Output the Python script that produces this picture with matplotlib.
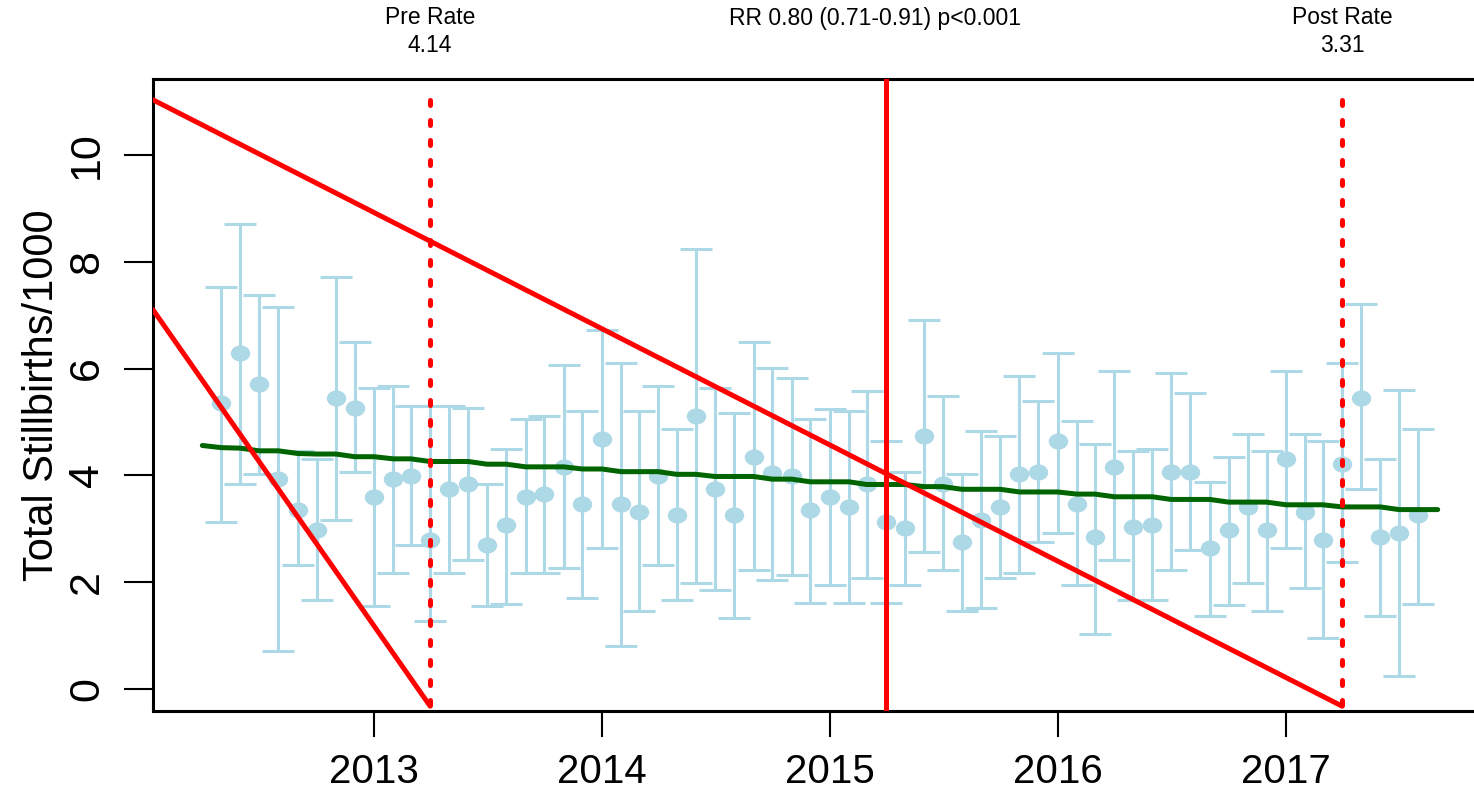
import numpy as np
import pandas as pd
import matplotlib.pyplot as plt
from matplotlib.path import Path
from matplotlib.transforms import Affine2D, blended_transform_factory

plt.rcParams['font.family'] = ['Liberation Sans', 'DejaVu Sans']

# monthly stillbirth rate per 1000 with 95% CI
months = pd.date_range('2012-05-01', '2017-08-01', freq='MS')
rate = [5.35, 6.29, 5.72, 3.93, 3.35, 2.98, 5.45, 5.26,
        3.60, 3.93, 3.98, 2.79, 3.74, 3.84, 2.70, 3.07, 3.60, 3.65, 4.16, 3.46,
        4.68, 3.46, 3.31, 3.98, 3.26, 5.11, 3.74, 3.26, 4.35, 4.04, 3.99, 3.35,
        3.60, 3.41, 3.83, 3.12, 3.02, 4.74, 3.83, 2.75, 3.16, 3.41, 4.02, 4.07,
        4.64, 3.46, 2.84, 4.16, 3.03, 3.07, 4.07, 4.07, 2.65, 2.98, 3.41, 2.98,
        4.30, 3.31, 2.79, 4.21, 5.44, 2.84, 2.93, 3.26]
upper = [7.52, 8.71, 7.38, 7.15, 4.46, 4.31, 7.72, 6.49,
         5.63, 5.68, 5.29, 5.29, 5.29, 5.26, 3.83, 4.50, 5.06, 5.11, 6.06, 5.21,
         6.72, 6.10, 5.21, 5.68, 4.87, 8.24, 5.63, 5.16, 6.49, 6.01, 5.82, 5.06,
         5.25, 5.21, 5.58, 4.64, 4.07, 6.91, 5.49, 4.02, 4.83, 4.73, 5.87, 5.39,
         6.29, 5.02, 4.59, 5.96, 4.45, 4.50, 5.92, 5.54, 3.88, 4.35, 4.78, 4.45,
         5.96, 4.78, 4.64, 6.10, 7.20, 4.31, 5.59, 4.87]
lower = [3.12, 3.83, 4.03, 0.71, 2.32, 1.67, 3.17, 4.07,
         1.56, 2.18, 2.70, 1.27, 2.18, 2.42, 1.56, 1.60, 2.18, 2.18, 2.27, 1.70,
         2.65, 0.81, 1.47, 2.32, 1.67, 1.99, 1.85, 1.33, 2.22, 2.04, 2.13, 1.61,
         1.94, 1.61, 2.08, 1.61, 1.94, 2.56, 2.22, 1.47, 1.52, 2.08, 2.18, 2.75,
         2.93, 1.94, 1.04, 2.42, 1.66, 1.66, 2.23, 2.60, 1.37, 1.57, 1.99, 1.47,
         2.65, 1.89, 0.95, 2.37, 3.74, 1.37, 0.24, 1.60]

# fitted trend
trend_months = pd.date_range('2012-04-01', '2017-09-01', freq='MS')
trend = [4.56, 4.52, 4.51, 4.46, 4.46, 4.41, 4.40, 4.40, 4.35, 4.35, 4.31, 4.31,
         4.26, 4.26, 4.26, 4.21, 4.21, 4.16, 4.16, 4.16, 4.12, 4.12, 4.07, 4.07,
         4.07, 4.02, 4.02, 3.98, 3.98, 3.98, 3.93, 3.93, 3.88, 3.88, 3.88, 3.83,
         3.83, 3.83, 3.79, 3.79, 3.74, 3.74, 3.74, 3.69, 3.69, 3.69, 3.65, 3.65,
         3.60, 3.60, 3.60, 3.55, 3.55, 3.55, 3.50, 3.50, 3.50, 3.45, 3.45, 3.45,
         3.41, 3.41, 3.41, 3.36, 3.36, 3.36]

# red reference lines
long_x = pd.to_datetime(['2012-01-13', '2017-04-01'])
long_y = [11.03, -0.32]
short_x = pd.to_datetime(['2012-01-13', '2013-04-01'])
short_y = [7.10, -0.32]
intervention = pd.Timestamp('2015-04-01')
pre_mark = pd.Timestamp('2013-04-01')
post_mark = pd.Timestamp('2017-04-01')

years = pd.to_datetime(['2013-01-01', '2014-01-01', '2015-01-01', '2016-01-01', '2017-01-01'])
year_labels = ['2013', '2014', '2015', '2016', '2017']
yticks = [0, 2, 4, 6, 8, 10]

fig = plt.figure(figsize=(14.74, 7.88), dpi=100)
ax = fig.add_axes([153/1474, 77/788, 1334/1474, 632/788])

rate = np.array(rate)
upper = np.array(upper)
lower = np.array(lower)

ax.errorbar(months, rate, yerr=[rate - lower, upper - rate], fmt='none',
            ecolor='lightblue', elinewidth=2.2, capsize=11.5, capthick=2.2, zorder=1)
ellipse = Path.unit_circle().transformed(Affine2D().scale(1.2, 1.0))
ax.plot(months, rate, linestyle='none', marker=ellipse, markersize=14,
        color='lightblue', markeredgecolor='none', zorder=2)

ax.plot(trend_months, trend, color='darkgreen', lw=3.6, zorder=3, solid_capstyle='round')

ax.plot(long_x, long_y, color='red', lw=3.6, solid_capstyle='round', zorder=4)
ax.plot(short_x, short_y, color='red', lw=3.6, solid_capstyle='round', zorder=4)
ax.axvline(intervention, color='red', lw=3.6, zorder=4)
for d in [pre_mark, post_mark]:
    ax.plot([d, d], long_y, color='red', lw=3.6, linestyle=(0, (1.0, 3.0)),
            dash_capstyle='round', zorder=4)

ax.set_xlim(pd.Timestamp('2012-01-13'), pd.Timestamp('2017-11-19'))
ax.set_ylim(-0.41, 11.42)

ax.set_xticks(years)
ax.set_xticklabels(year_labels, fontsize=29)
ax.set_yticks(yticks)
ax.set_yticklabels([str(v) for v in yticks], fontsize=31, rotation=90, va='center')
ax.tick_params(axis='x', length=19, width=1.5, pad=11)
ax.tick_params(axis='y', length=21, width=1.5, pad=12)
ax.set_ylabel('Total Stillbirths/1000', fontsize=30, labelpad=4)

for s in ['left', 'top', 'bottom']:
    ax.spines[s].set_linewidth(2.2)
ax.spines['right'].set_visible(False)

trans = blended_transform_factory(ax.transData, fig.transFigure)
ax.text(pre_mark, 1 - 18/788, 'Pre Rate', transform=trans, ha='center', va='center', fontsize=16.5)
ax.text(pre_mark, 1 - 46/788, '4.14', transform=trans, ha='center', va='center', fontsize=16.5)
ax.text(post_mark, 1 - 18/788, 'Post Rate', transform=trans, ha='center', va='center', fontsize=16.5)
ax.text(post_mark, 1 - 46/788, '3.31', transform=trans, ha='center', va='center', fontsize=16.5)
fig.text(875/1474, 1 - 18/788, 'RR 0.80 (0.71-0.91) p<0.001', ha='center', va='center', fontsize=16.5)

fig.savefig('out.png', dpi=100)
